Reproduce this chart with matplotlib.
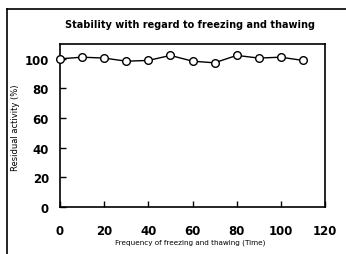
import matplotlib
matplotlib.use("Agg")
import matplotlib.pyplot as plt
from matplotlib.lines import Line2D

cycles = [0, 10, 20, 30, 40, 50, 60, 70, 80, 90, 100, 110]
activity = [100, 101.1, 100.5, 98.4, 98.9, 102.3, 98.4, 97.3, 102.3, 100.5, 101.1, 98.9]
xticks = [0, 20, 40, 60, 80, 100, 120]
yticks = [0, 20, 40, 60, 80, 100]

W, H = 346, 255
fig = plt.figure(figsize=(W/100, H/100), dpi=100)
ax = fig.add_axes([60/W, 1-208/H, (325-60)/W, (208-45)/H])
ax.plot(cycles, activity, color='black', lw=1, marker='o', ms=5.5,
        mfc='white', mec='black', mew=1, clip_on=False, zorder=3)
ax.set_xlim(0, 120)
ax.set_ylim(0, 110)
ax.set_xticks(xticks)
ax.set_yticks(yticks)
ax.tick_params(axis='x', direction='in', length=4, pad=12, width=1)
ax.tick_params(axis='y', direction='in', length=4, pad=8, width=1)
for lab in ax.get_xticklabels() + ax.get_yticklabels():
    lab.set_fontweight('bold')
    lab.set_fontsize(8.5)
for s in ax.spines.values():
    s.set_linewidth(1.2)
ax.set_xlabel('Frequency of freezing and thawing (Time)', fontsize=5.2)
ax.xaxis.set_label_coords(0.49, -(243-208)/163, transform=None) if False else None
ax.xaxis.set_label_coords(0.49, -(240-208)/163)
ax.xaxis.label.set_va('top')
ax.set_ylabel('Residual activity (%)', fontsize=6)
ax.yaxis.set_label_coords((20-60)/265, 0.49)
fig.text(190/W, 1-25/H, 'Stability with regard to freezing and thawing',
         ha='center', va='center', fontsize=7, fontweight='bold')
# outer frame
fig.add_artist(Line2D([7/W, 7/W], [0, 1-10/H], color='black', lw=1.2, transform=fig.transFigure))
fig.add_artist(Line2D([7/W, 1], [1-10/H, 1-10/H], color='black', lw=1.2, transform=fig.transFigure))
fig.savefig('out.png', dpi=100)
